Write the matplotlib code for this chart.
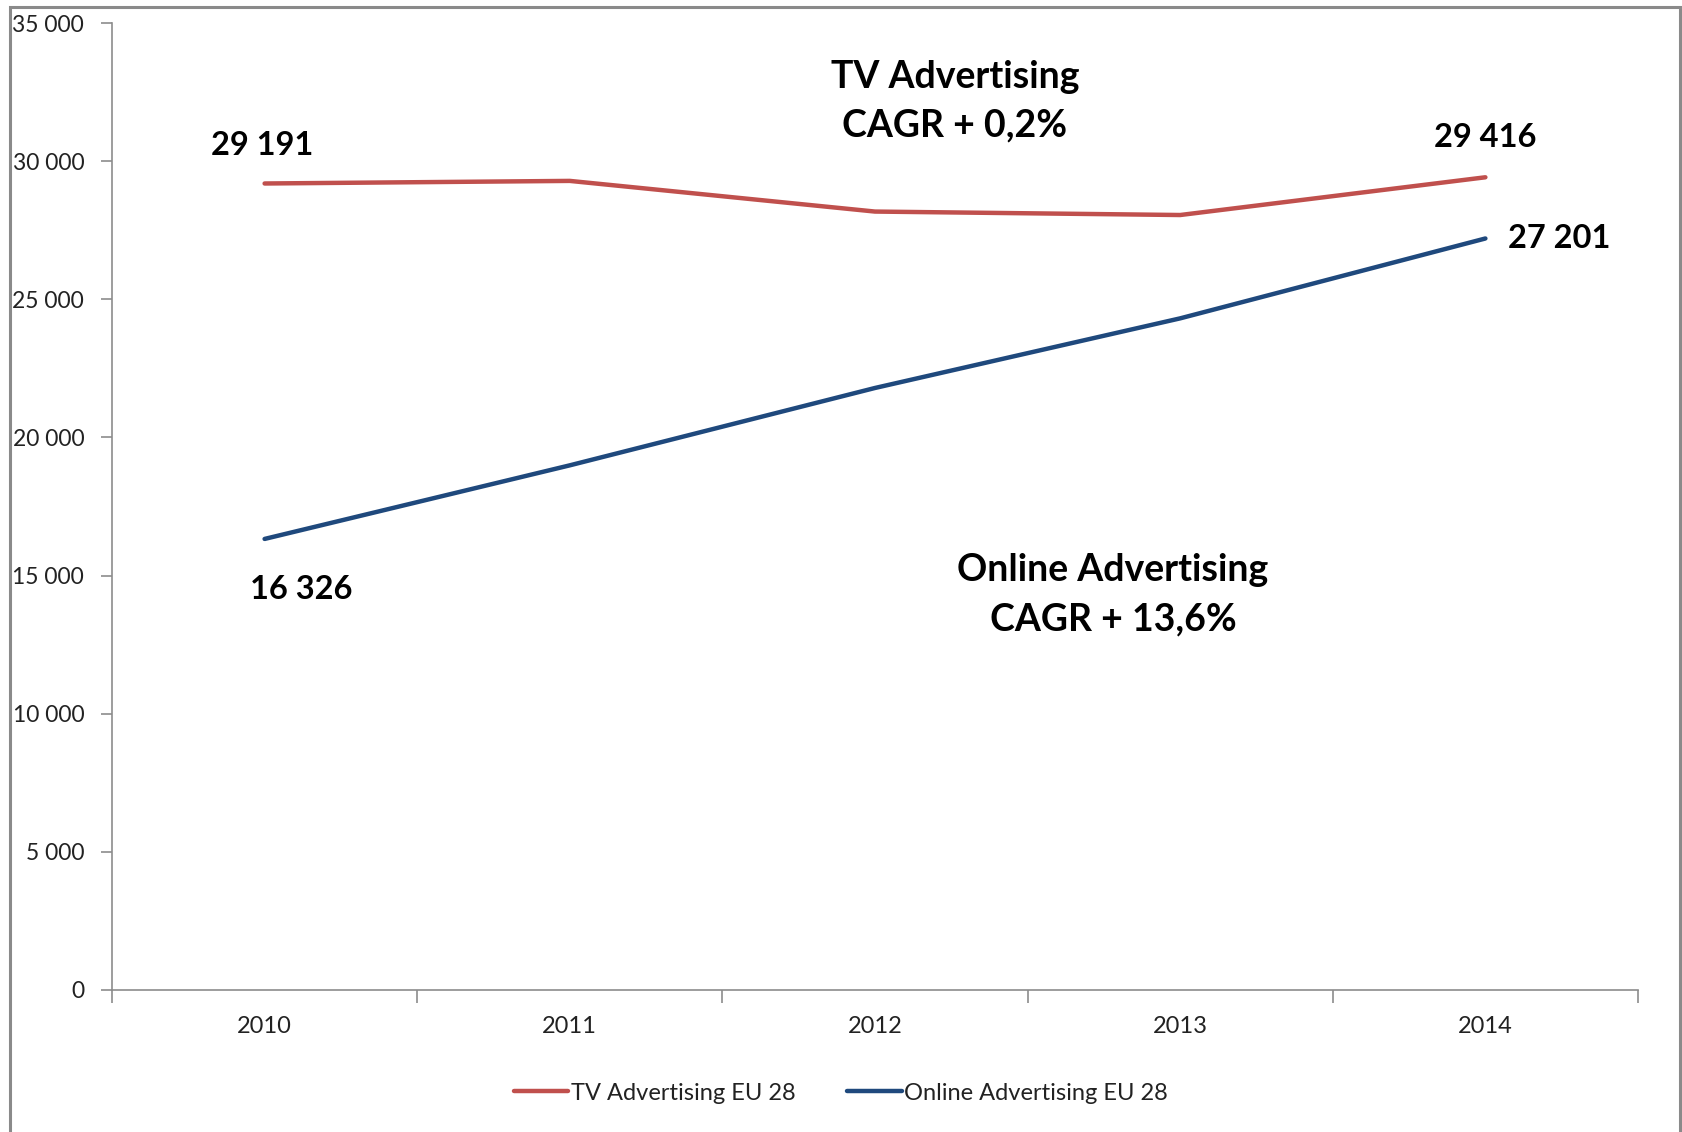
import matplotlib
matplotlib.use("Agg")
import matplotlib.pyplot as plt
from matplotlib.patches import Rectangle
from matplotlib.ticker import FuncFormatter, FixedLocator

years = ["2010", "2011", "2012", "2013", "2014"]
tv_values = [29191, 29285, 28175, 28050, 29416]
online_values = [16326, 18990, 21790, 24310, 27201]
tv_label = "TV Advertising EU 28"
online_label = "Online Advertising EU 28"
tv_note = "TV Advertising\nCAGR + 0,2%"
online_note = "Online Advertising\nCAGR + 13,6%"

W, H, DPI = 1682, 1132, 100
plt.rcParams["font.family"] = ["Lato", "DejaVu Sans"]

fig = plt.figure(figsize=(W / DPI, H / DPI), dpi=DPI)
fig.patch.set_facecolor("white")

# outer chart-area frame
fig.patches.append(Rectangle((10 / W, -0.05), (1680 - 10) / W, 1.05 - 7 / H,
                             transform=fig.transFigure, fill=False,
                             edgecolor="#8a8a8a", linewidth=2.2))

left, right, top, bottom = 112, 1638, 23, 990
ax = fig.add_axes([left / W, 1 - bottom / H, (right - left) / W, (bottom - top) / H])

red = "#C0504D"
blue = "#1F497D"
x = list(range(len(years)))
ax.plot(x, tv_values, color=red, lw=3.2, solid_capstyle="round",
        solid_joinstyle="round", label=tv_label)
ax.plot(x, online_values, color=blue, lw=3.2, solid_capstyle="round",
        solid_joinstyle="round", label=online_label)

ax.set_xlim(-0.5, len(years) - 0.5)
ax.set_ylim(0, 35000)

for s in ["top", "right"]:
    ax.spines[s].set_visible(False)
for s in ["left", "bottom"]:
    ax.spines[s].set_color("#8c8c8c")
    ax.spines[s].set_linewidth(1.2)

ax.set_yticks(range(0, 35001, 5000))
ax.yaxis.set_major_formatter(FuncFormatter(lambda v, p: f"{int(v):,}".replace(",", " ")))
ax.tick_params(axis="y", length=8, width=1.2, color="#8c8c8c", labelsize=16.5,
               labelcolor="#222222", pad=12)

ax.set_xticks(x)
ax.set_xticklabels(years)
ax.tick_params(axis="x", which="major", length=0, labelsize=17, labelcolor="#222222", pad=19)
ax.xaxis.set_minor_locator(FixedLocator([i - 0.5 for i in range(len(years) + 1)]))
ax.tick_params(axis="x", which="minor", length=9, width=1.2, color="#8c8c8c")

bold = dict(fontsize=23.5, fontweight="bold", color="black")
ax.annotate(f"{tv_values[0]:,}".replace(",", " "), (0, tv_values[0]),
            xytext=(-2, 38), textcoords="offset pixels", ha="center", va="center", **bold)
ax.annotate(f"{online_values[0]:,}".replace(",", " "), (0, online_values[0]),
            xytext=(37, -51), textcoords="offset pixels", ha="center", va="center", **bold)
ax.annotate(f"{tv_values[-1]:,}".replace(",", " "), (4, tv_values[-1]),
            xytext=(0, 40), textcoords="offset pixels", ha="center", va="center", **bold)
ax.annotate(f"{online_values[-1]:,}".replace(",", " "), (4, online_values[-1]),
            xytext=(74, 0), textcoords="offset pixels", ha="center", va="center", **bold)

note = dict(fontsize=27, fontweight="bold", color="black")
fig.text(955 / W, 1 - 101 / H, tv_note, ha="center", va="center",
         linespacing=1.5, **note)
fig.text(1113 / W, 1 - 595 / H, online_note, ha="center", va="center",
         linespacing=1.55, **note)

leg = fig.legend(loc="center", bbox_to_anchor=(0.5, 1 - 1093 / H), ncol=2,
                 frameon=False, fontsize=17, handlelength=2.3, handletextpad=0.1,
                 columnspacing=2.2)
for t in leg.get_texts():
    t.set_color("#222222")

fig.savefig("out.png", dpi=DPI, facecolor="white")
